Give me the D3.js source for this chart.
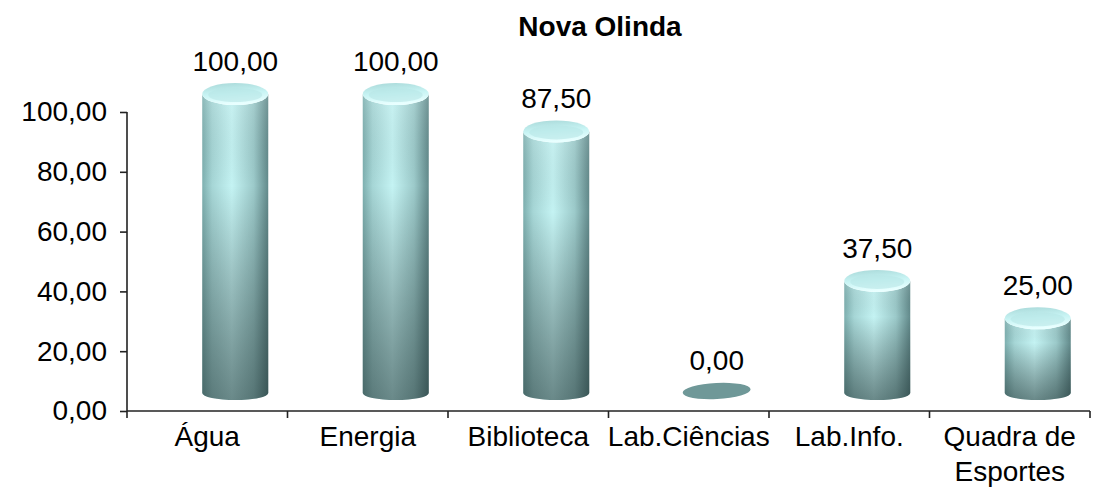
<!DOCTYPE html>
<html>
<head>
<meta charset="UTF-8">
<title>Nova Olinda</title>
<style>
body { margin:0; background:#fff; }
svg { display:block; font-family: Arial, "Liberation Sans", sans-serif; }
.axis path, .axis line { stroke:#222; stroke-width:1.6px; }
.axis text { font-size:28px; fill:#000; }
</style>
</head>
<body>
<svg width="1093" height="491"></svg>
<script src="https://cdn.jsdelivr.net/npm/d3@7/dist/d3.min.js"></script>
<script>
const categories = ['Água', 'Energia', 'Biblioteca', 'Lab.Ciências', 'Lab.Info.', 'Quadra de\nEsportes'];
const values = [100, 100, 87.5, 0, 37.5, 25];
const yTicks = [0, 20, 40, 60, 80, 100];

const fmt = v => v.toFixed(2).replace('.', ',');

const svg = d3.select('svg');
const x = d3.scaleBand().domain(categories).range([127, 1090]);
const y = d3.scaleLinear().domain([0, 100]).range([411, 112]);

// 3d depth shift of the cylinders
const dx = 28, dy = -18, rx = 33, ryTop = 11, ryBot = 7;

const defs = svg.append('defs');
const hg = defs.append('linearGradient').attr('id', 'body').attr('x1', 0).attr('x2', 1).attr('y1', 0).attr('y2', 0);
[[0, '#7eb0b0'], [0.15, '#a6d6d6'], [0.45, '#c4f3f3'], [0.78, '#9ccaca'], [1, '#628a8b']]
  .forEach(([o, c]) => hg.append('stop').attr('offset', o).attr('stop-color', c));
const vg = defs.append('linearGradient').attr('id', 'shade').attr('x1', 0).attr('x2', 0).attr('y1', 0).attr('y2', 1);
[[0, '#ffffff', 0.12], [0.3, '#000', 0], [1, '#102020', 0.5]]
  .forEach(([o, c, a]) => vg.append('stop').attr('offset', o).attr('stop-color', c).attr('stop-opacity', a));
const cg = defs.append('linearGradient').attr('id', 'cap').attr('x1', 0).attr('x2', 0.2).attr('y1', 0).attr('y2', 1);
[[0, '#a8d8d8'], [0.55, '#c8f4f4'], [1, '#e8ffff']]
  .forEach(([o, c]) => cg.append('stop').attr('offset', o).attr('stop-color', c));

// title
svg.append('text').attr('x', 600).attr('y', 36).attr('text-anchor', 'middle')
  .attr('font-size', 28).attr('font-weight', 'bold').text('Nova Olinda');

// axes
const yAxis = svg.append('g').attr('class', 'axis').attr('transform', 'translate(127,0)')
  .call(d3.axisLeft(y).tickValues(yTicks).tickFormat(fmt).tickSize(7).tickPadding(13).tickSizeOuter(0));
yAxis.select('.domain').attr('d', `M0,${y(100)}V418`);

const xAxis = svg.append('g').attr('class', 'axis').attr('transform', 'translate(0,411)')
  .call(d3.axisBottom(x).tickSize(0).tickFormat(''));
xAxis.selectAll('.tick').remove();
xAxis.select('.domain').attr('d', `M127,0H1090`);
xAxis.selectAll('line.sep').data(categories).enter().append('line').attr('class', 'sep')
  .attr('x1', d => x(d) + x.bandwidth()).attr('x2', d => x(d) + x.bandwidth())
  .attr('y1', 0).attr('y2', 7);

// category labels
const cl = svg.append('g').selectAll('text').data(categories).enter().append('text')
  .attr('x', d => x(d) + x.bandwidth() / 2).attr('y', 446)
  .attr('text-anchor', 'middle').attr('font-size', 28);
cl.each(function(d) {
  d.split('\n').forEach((s, i) => d3.select(this).append('tspan')
    .attr('x', x(d) + x.bandwidth() / 2).attr('dy', i ? 35 : 0).text(s));
});

// cylinders
const data = categories.map((c, i) => ({ c, v: values[i] }));
const bars = svg.append('g').selectAll('g').data(data).enter().append('g');
bars.each(function(d) {
  const g = d3.select(this);
  const cx = x(d.c) + x.bandwidth() / 2 + dx;
  const yb = y(0) + dy, yt = y(d.v) + dy;
  if (d.v === 0) {
    g.append('ellipse').attr('cx', cx).attr('cy', yb - 2).attr('rx', rx + 1).attr('ry', 8)
      .attr('transform', `rotate(-3 ${cx} ${yb})`).attr('fill', '#6f9898');
    return;
  }
  const p = `M${cx - rx},${yt}V${yb}A${rx},${ryBot} 0 0 0 ${cx + rx},${yb}V${yt}A${rx},${ryTop} 0 0 1 ${cx - rx},${yt}Z`;
  g.append('path').attr('d', p).attr('fill', 'url(#body)');
  g.append('path').attr('d', p).attr('fill', 'url(#shade)');
  g.append('ellipse').attr('cx', cx).attr('cy', yt).attr('rx', rx).attr('ry', ryTop).attr('fill', 'url(#cap)');
  g.append('ellipse').attr('cx', cx).attr('cy', yt + 1).attr('rx', rx - 6).attr('ry', ryTop - 4)
    .attr('fill', '#b8e6e6').attr('opacity', 0.6);
});

// value labels
svg.append('g').selectAll('text').data(data).enter().append('text')
  .attr('x', d => x(d.c) + x.bandwidth() / 2 + dx).attr('y', d => y(d.v) - 41)
  .attr('text-anchor', 'middle').attr('font-size', 28).text(d => fmt(d.v));
</script>
</body>
</html>
